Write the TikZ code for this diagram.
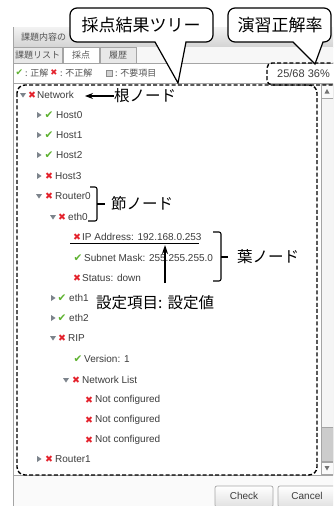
\documentclass[tikz,border=0pt]{standalone}
\usepackage{fontspec}
\setmainfont{Liberation Sans}
\newfontfamily\jp{Noto Sans CJK JP}
\newfontfamily\sym{DejaVu Sans}
\usetikzlibrary{arrows.meta}
\definecolor{okg}{RGB}{94,178,48}
\definecolor{ngr}{RGB}{228,35,45}
\definecolor{txt}{RGB}{60,60,60}
\definecolor{trig}{RGB}{125,132,140}
\definecolor{uigray}{RGB}{85,85,85}
\definecolor{bord}{RGB}{165,165,165}
\newcommand\tdown[2]{\fill[trig] (#1-3,#2-2) -- (#1+3,#2-2) -- (#1,#2+2.6) -- cycle;}
\newcommand\tright[2]{\fill[trig] (#1-2,#2-3) -- (#1-2,#2+3) -- (#1+2.6,#2) -- cycle;}
\tikzset{
  item/.style={anchor=west, inner sep=0pt, font=\fontsize{10}{11}\selectfont, text=txt},
  okm/.style={inner sep=0pt, font=\sym\fontsize{10.5}{10}\selectfont, text=okg},
  ngm/.style={inner sep=0pt, font=\sym\fontsize{9.5}{10}\selectfont, text=ngr},
  ui/.style={inner sep=0pt, font=\jp\fontsize{9}{9}\selectfont, text=uigray},
  ann/.style={inner sep=0pt, anchor=west, font=\jp\fontsize{15.5}{16}\selectfont},
  calltext/.style={inner sep=0pt, font=\jp\fontsize{17}{18}\selectfont},
  callout/.style={draw=black, fill=white, line width=1.2pt},
  dashbox/.style={draw=black, line width=1.4pt, dash pattern=on 4pt off 2.2pt, rounded corners=8pt},
  brace/.style={draw=black, line width=1.1pt, rounded corners=2pt},
  tab/.style={draw=bord, line width=0.6pt},
  btn/.style={draw=bord, line width=0.7pt, rounded corners=2pt, top color=white, bottom color=black!12},
}
\begin{document}
\begin{tikzpicture}[x=1pt,y=-1pt]
\useasboundingbox (0,0) rectangle (333,506);
\clip (0,0) rectangle (333,506);
\fill[white] (0,0) rectangle (333,506);
% window
\shade[top color=black!5, bottom color=black!17] (13,27) rectangle (340,47);
\node[ui, anchor=west] (title) at (21,37) {課題内容の};
\fill[black!3] (13,47) rectangle (340,63);
\draw[tab, fill=black!9] (13,47) rectangle (62,63);
\draw[tab, fill=white] (63,47) rectangle (99,63);
\draw[tab, fill=black!9] (100,47) rectangle (136,63);
\draw[bord, line width=0.6pt] (136,63) -- (340,63);
\node[ui] (tab1) at (37.5,55.5) {課題リスト};
\node[ui] (tab2) at (81,55.5) {採点};
\node[ui] (tab3) at (118,55.5) {履歴};
% legend
\node[okm, font=\sym\fontsize{9}{9}\selectfont] (lg1) at (19.5,73) {✔};
\node[ui, anchor=west] (lg1t) at (25,73) {: 正解};
\node[ngm, font=\sym\fontsize{8.5}{9}\selectfont] (lg2) at (54,73) {✖};
\node[ui, anchor=west] (lg2t) at (60,73) {: 不正解};
\filldraw[fill=black!18, draw=black!45, line width=0.5pt] (106,70) rectangle (112,76);
\node[ui, anchor=west] (lg3t) at (115,73) {: 不要項目};
% tree panel
\fill[black!2] (13,475) rectangle (340,506);
\draw[bord, line width=0.7pt, fill=white] (13,83) rectangle (340,475);
\draw[bord, line width=0.7pt] (13,27) -- (13,506);
% scrollbar
\draw[bord, line width=0.5pt, fill=black!4] (321,84) rectangle (333,474);
\draw[bord, line width=0.5pt, fill=black!2] (321,84) rectangle (333,98);
\fill[black!55] (324.5,93.5) -- (329.5,93.5) -- (327,89) -- cycle;
\draw[bord, line width=0.5pt, fill=black!20] (321,427) rectangle (333,461);
\draw[bord, line width=0.5pt, fill=black!2] (321,462) rectangle (333,474);
\fill[black!55] (324.5,466) -- (329.5,466) -- (327,470.5) -- cycle;
% tree
\tdown{23}{95}   \node[ngm] (m0) at (32,95) {✖}; \node[item] (network) at (37,95) {Network};
\tright{39}{115} \node[okm] (m1) at (49,115) {✔}; \node[item] (host0) at (56,115) {Host0};
\tright{39}{135} \node[okm] (m2) at (49,135) {✔}; \node[item] (host1) at (56,135) {Host1};
\tright{39}{155} \node[okm] (m3) at (49,155) {✔}; \node[item] (host2) at (56,155) {Host2};
\tright{39}{176} \node[ngm] (m4) at (49,176) {✖}; \node[item] (host3) at (55,176) {Host3};
\tdown{39}{196}  \node[ngm] (m5) at (49,196) {✖}; \node[item] (router0) at (55,196) {Router0};
\tdown{53}{217}  \node[ngm] (m6) at (62,217) {✖}; \node[item] (eth0) at (68,217) {eth0};
\node[ngm] (m7) at (77,237) {✖}; \node[item] (ip) at (82,237) {IP Address: 192.168.0.253};
\node[okm] (m8) at (78,258) {✔}; \node[item] (mask) at (84,258) {Subnet Mask: 255.255.255.0};
\node[ngm] (m9) at (77,278) {✖}; \node[item] (status) at (82,278) {Status: down};
\tright{53}{298} \node[okm] (m10) at (62,298) {✔}; \node[item] (eth1) at (69,298) {eth1};
\tright{53}{318} \node[okm] (m11) at (62,318) {✔}; \node[item] (eth2) at (69,318) {eth2};
\tdown{53}{338}  \node[ngm] (m12) at (62,338) {✖}; \node[item] (rip) at (68,338) {RIP};
\node[okm] (m13) at (78,359) {✔}; \node[item] (ver) at (84,359) {Version: 1};
\tdown{66}{380}  \node[ngm] (m14) at (76,380) {✖}; \node[item] (nlist) at (82,380) {Network List};
\node[ngm] (m15) at (89,400) {✖}; \node[item] (nc1) at (95,400) {Not configured};
\node[ngm] (m16) at (89,420) {✖}; \node[item] (nc2) at (95,420) {Not configured};
\node[ngm] (m17) at (89,440) {✖}; \node[item] (nc3) at (95,440) {Not configured};
\tright{39}{459} \node[ngm] (m18) at (49,459) {✖}; \node[item] (router1) at (55,459) {Router1};
% buttons
\draw[btn] (215,486) rectangle (273,507);
\draw[btn] (278,486) rectangle (340,507);
\node[item, anchor=center] (check) at (244,496) {Check};
\node[item, anchor=center] (cancel) at (307,496) {Cancel};
% score box
\node[item, anchor=west, font=\fontsize{11}{12}\selectfont] (score) at (277,74) {25/68 36\%};
\draw[dashbox, rounded corners=5pt] (345,85) -- (267,85) -- (267,63) -- (345,63);
% tree dashed box
\draw[dashbox] (17,85) rectangle (317,475);
% annotations
\draw[line width=0.9pt] (70,243) -- (199,243);
\node[ann] (root) at (114,96) {根ノード};
\draw[line width=1.2pt, -{Stealth[length=8pt,width=6pt]}] (root.west) -- (85,96);
\draw[brace] (90,187) -- (97,187) -- (97,221) -- (88,221);
\draw[brace] (97,204) -- (105,204);
\node[ann] (mid) at (111,204) {節ノード};
\draw[brace] (213,232) -- (221,232) -- (221,281) -- (213,281);
\draw[brace] (221,257) -- (228,257);
\node[ann] (leaf) at (237,257) {葉ノード};
\node[ann] (setting) at (96,303) {設定項目:\hspace{5pt}設定値};
\coordinate (uline) at (165,245);
\draw[line width=1.2pt, -{Stealth[length=9pt,width=6pt]}] (165,283) -- (uline);
% callouts
\draw[callout] (70,25) [rounded corners=7pt] -- (70,8) -- (213,8) -- (213,42) [sharp corners] -- (186,42) -- (178,83) -- (155,42) [rounded corners=7pt] -- (70,42) -- cycle;
\node[calltext] (c1) at (141,25) {採点結果ツリー};
\draw[callout] (228,25) [rounded corners=7pt] -- (228,8) -- (331,8) -- (331,42) [sharp corners] -- (323,42) -- (315,64) -- (293,42) [rounded corners=7pt] -- (228,42) -- cycle;
\node[calltext] (c2) at (280,25) {演習正解率};
\end{tikzpicture}
\end{document}
